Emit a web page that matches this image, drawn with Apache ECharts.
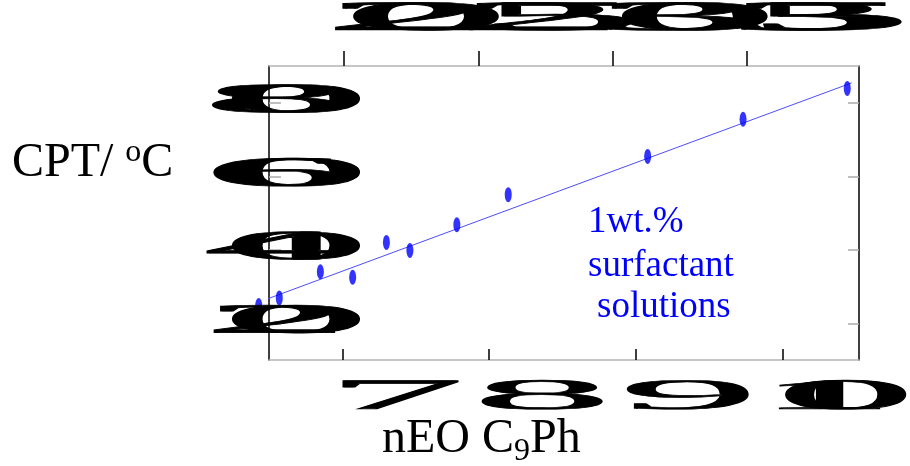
<!DOCTYPE html>
<html><head><meta charset="utf-8">
<script src="https://cdn.jsdelivr.net/npm/echarts@6/dist/echarts.min.js"></script>
<style>html,body{margin:0;padding:0;background:#fff}#c{width:910px;height:466px}</style>
</head><body><div id="c"></div>
<script>
// ---- data ----
const nEO = [6.43, 6.57, 6.85, 7.07, 7.30, 7.46, 7.78, 8.13, 9.08, 9.73, 10.44];
const cpt = [24.8, 26.9, 34.0, 32.5, 42.0, 39.8, 46.8, 55.0, 65.4, 75.5, 83.9];
const fitNEO = [6.46, 10.47];
const fitCPT = [26.2, 85.4];
const bottomTicks = [7, 8, 9, 10];
const bottomTickLabels = ['7', '8', '9', '10'];
const topTicks = [20, 25, 30, 35];
const topTickLabels = ['20', '25', '30', '35'];
const yTicks = [20, 40, 60, 80];
const yTickLabels = ['20', '40', '60', '80'];

const SERIF = '"Liberation Serif","Times New Roman",serif';
const chart = echarts.init(document.getElementById('c'), null, {renderer: 'canvas'});

const pts = nEO.map((v, i) => [v, cpt[i]]);
const fit = fitNEO.map((v, i) => [v, fitCPT[i]]);

chart.setOption({
  animation: false,
  backgroundColor: '#fff',
  grid: {left: 269, right: 51, top: 66, bottom: 106},
  xAxis: [
    {type: 'value', position: 'bottom', min: 6.5, max: 10.52,
     axisLine: {onZero: false, lineStyle: {color: '#b4b4b4', width: 1.5}},
     axisTick: {show: true, inside: true, length: 11, customValues: bottomTicks, lineStyle: {color: '#000', width: 1.5}},
     axisLabel: {show: false}, splitLine: {show: false}},
    {type: 'value', position: 'top', min: 17.21, max: 39.16,
     axisLine: {onZero: false, lineStyle: {color: '#b4b4b4', width: 1.5}},
     axisTick: {show: true, inside: false, length: 15, customValues: topTicks, lineStyle: {color: '#000', width: 1.5}},
     axisLabel: {show: false}, splitLine: {show: false}}
  ],
  yAxis: [
    {type: 'value', position: 'left', min: 10, max: 90,
     axisLine: {show: true, onZero: false, lineStyle: {color: '#000', width: 1.5}},
     axisTick: {show: true, inside: true, length: 12, customValues: yTicks, lineStyle: {color: '#aaa', width: 1.5}},
     axisLabel: {show: false}, splitLine: {show: false}},
    {type: 'value', position: 'right', min: 10, max: 90,
     axisLine: {show: true, onZero: false, lineStyle: {color: '#000', width: 1.5}},
     axisTick: {show: true, inside: true, length: 11, customValues: yTicks, lineStyle: {color: '#aaa', width: 1.5}},
     axisLabel: {show: false}, splitLine: {show: false}}
  ],
  series: [
    {type: 'line', data: fit, xAxisIndex: 0, yAxisIndex: 0, symbol: 'none', clip: false,
     lineStyle: {color: '#4d4dff', width: 1}, z: 3},
    {type: 'scatter', data: pts, xAxisIndex: 0, yAxisIndex: 0, symbol: 'circle', symbolSize: [7, 15], clip: false,
     itemStyle: {color: '#0000ff'}, z: 4}
  ]
});

// measuring helper for text layout
const mctx = document.createElement('canvas').getContext('2d');
function textW(font, s) { mctx.font = font; return mctx.measureText(s).width; }

// stretched tick-label glyphs (each character stretched about its own centre)
function glyphLabel(text, cx, cy, fs, sx, sy, adv) {
  const n = text.length, els = [];
  for (let i = 0; i < n; i++) {
    els.push({type: 'text', x: cx + (i - (n - 1) / 2) * adv, y: cy, scaleX: sx, scaleY: sy, silent: true, z: 100,
      style: {text: text[i], font: `${fs}px ${SERIF}`, fill: '#000', align: 'center', verticalAlign: 'middle',
              stroke: '#000', lineWidth: 0.6}});
  }
  return els;
}

const g = [];
bottomTicks.forEach((v, i) => {
  const px = chart.convertToPixel({xAxisIndex: 0}, v);
  g.push(...glyphLabel(bottomTickLabels[i], px + 53, 397.5, 40, 6.9, 1.08, 20));
});
topTicks.forEach((v, i) => {
  const px = chart.convertToPixel({xAxisIndex: 1}, v);
  g.push(...glyphLabel(topTickLabels[i], px + 72, 19, 40, 8.3, 1.04, 20));
});
yTicks.forEach((v, i) => {
  const py = chart.convertToPixel({yAxisIndex: 0}, v);
  const px = chart.convertToPixel({xAxisIndex: 0}, 6.5);
  g.push(...glyphLabel(yTickLabels[i], px + 17, py - 1.5, 40, 7.3, 1.04, 20));
});

// axis titles
const F48 = `48px ${SERIF}`, F32 = `32px ${SERIF}`;
function txt(s, x, y, font, fill) {
  return {type: 'text', x: x, y: y, silent: true, z: 100,
    style: {text: s, font: font, fill: fill || '#000', align: 'left', verticalAlign: 'middle'}};
}
let x0 = 12;
g.push(txt('CPT/ ', x0, 163.8, F48));
x0 += textW(F48, 'CPT/ ');
g.push(txt('o', x0, 152.2, F32));
x0 += textW(F32, 'o');
g.push(txt('C', x0, 163.8, F48));

x0 = 382;
g.push(txt('nEO C', x0, 439.8, F48));
x0 += textW(F48, 'nEO C');
g.push(txt('9', x0, 451.2, F32));
x0 += textW(F32, '9');
g.push(txt('Ph', x0, 439.8, F48));

// annotation
const F37 = `37px ${SERIF}`;
g.push(txt('1wt.%', 588, 222, F37, '#0000ff'));
g.push(txt('surfactant', 588, 266, F37, '#0000ff'));
g.push(txt('solutions', 597, 307, F37, '#0000ff'));

chart.setOption({graphic: g});
</script>
</body></html>
